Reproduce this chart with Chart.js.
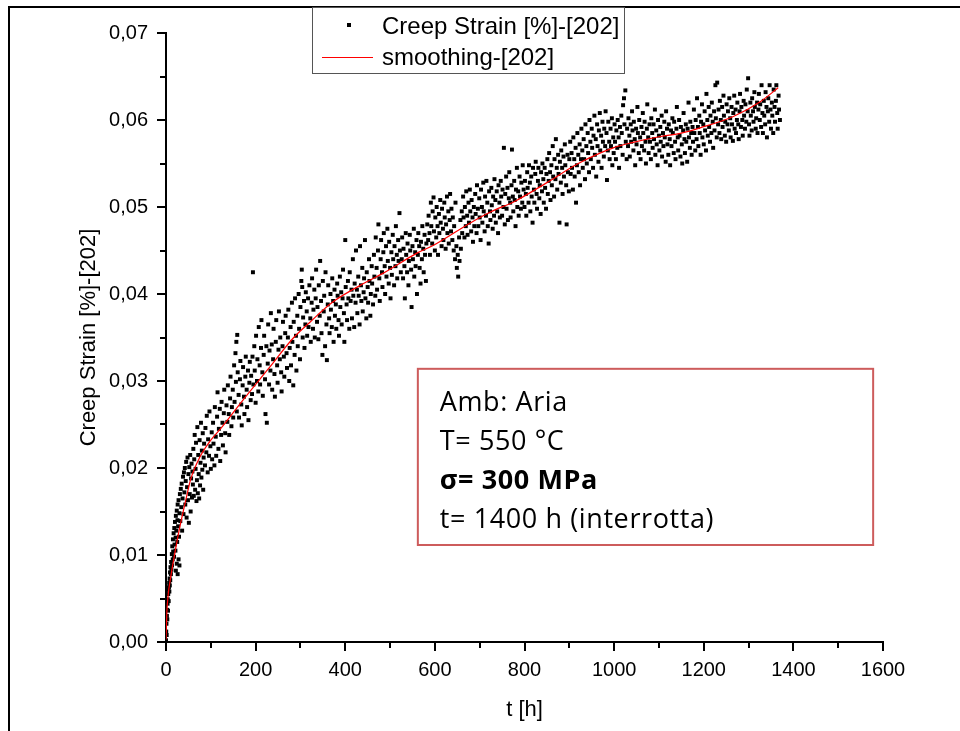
<!DOCTYPE html>
<html>
<head>
<meta charset="utf-8">
<script src="https://cdn.jsdelivr.net/npm/chart.js@4.4.0/dist/chart.umd.min.js"></script>
<style>
  body { margin: 0; background: #fff; }
  canvas { display: block; }
</style>
</head>
<body>
<canvas id="creepChart" width="960" height="731"></canvas>
<script>
// axis ticks
const timeTicks = [0, 200, 400, 600, 800, 1000, 1200, 1400, 1600];
const timeMinor = [100, 300, 500, 700, 900, 1100, 1300, 1500];
const strainTicks = [0, 0.01, 0.02, 0.03, 0.04, 0.05, 0.06, 0.07];
const strainMinor = [0.005, 0.015, 0.025, 0.035, 0.045, 0.055, 0.065];

// smoothing curve
const smoothTime = [0, 2, 5, 10, 20, 30, 45, 55, 75, 100, 120, 170, 230, 285, 320, 370, 448, 485, 560, 597, 680, 723, 780, 850, 920, 998, 1040, 1103, 1150, 1192, 1266, 1326, 1366];
const smoothStrain = [0.0003, 0.0035, 0.0055, 0.0073, 0.0103, 0.0130, 0.0165, 0.0187, 0.0212, 0.0232, 0.0244, 0.0277, 0.0315, 0.0350, 0.0367, 0.0390, 0.0414, 0.0424, 0.0447, 0.0456, 0.0482, 0.0494, 0.0507, 0.0528, 0.0550, 0.0568, 0.0574, 0.0581, 0.0585, 0.0591, 0.0604, 0.0621, 0.0637];

// measured creep strain [t (h), strain %]
const creepPoints = [
[0,0.0002],[0.5,0.0012],[1,0.0021],[1.5,0.0008],[2,0.0030],[2.5,0.0037],[3,0.0026],[3.5,0.0044],[4,0.0049],[4.5,0.0036],[5,0.0055],[5.5,0.0060],[6,0.0047],[6.5,0.0063],[7,0.0068],[7.5,0.0058],[8,0.0073],[8.5,0.0065],[9,0.0080],[9.5,0.0071],[10,0.0086],
[11,0.0078],[11.5,0.0092],[12,0.0083],[13,0.0101],[13.5,0.0088],[14,0.0110],[15,0.0095],[15.5,0.0118],[16,0.0104],[17,0.0125],[18,0.0098],[18.5,0.0131],[19,0.0112],[20,0.0138],[21,0.0105],[21.5,0.0120],[22,0.0145],[22,0.0082],[23,0.0128],[24,0.0151],[24,0.0090],[25,0.0115],[25.5,0.0140],[26,0.0158],[26,0.0078],[27,0.0133],[28,0.0163],[28,0.0095],[29,0.0121],[30,0.0148],[30,0.0088],[31,0.0170],[32,0.0139],[33,0.0176],[34,0.0155],[35,0.0182],[36,0.0128],[37,0.0165],[38,0.0190],[39,0.0147],[40,0.0195],
[41,0.0172],[42,0.0200],[43,0.0158],[44,0.0185],[45,0.0207],[46,0.0143],[47,0.0178],[48,0.0212],[49,0.0163],[50,0.0193],[51,0.0137],[52,0.0201],[53,0.0170],[54,0.0215],[55,0.0150],[56,0.0188],[57,0.0205],[58,0.0166],[59,0.0196],[60,0.0181],
[61,0.0222],[62,0.0168],[63,0.0210],[64,0.0238],[65,0.0175],[66,0.0199],[67,0.0229],[68,0.0162],[69,0.0186],[70,0.0247],[71,0.0171],[72,0.0215],[73,0.0193],[74,0.0165],[75,0.0232],[76,0.0180],[77,0.0206],[78,0.0252],[79,0.0189],[80,0.0220],[81,0.0198],[82,0.0240],[83,0.0175],[84,0.0212],[85,0.0228],
[87,0.0203],[88,0.0246],[90,0.0218],[91,0.0260],[93,0.0195],[94,0.0233],[96,0.0214],[97,0.0265],[99,0.0225],[100,0.0199],[102,0.0241],[103,0.0210],[105,0.0252],[106,0.0228],[108,0.0203],[109,0.0270],[111,0.0236],[112,0.0214],[114,0.0259],[115,0.0287],[117,0.0222],[118,0.0245],[120,0.0268],[121,0.0208],[123,0.0238],[124,0.0276],[126,0.0252],[127,0.0226],[129,0.0263],[130,0.0290],[132,0.0240],[133,0.0218],[135,0.0272],
[137,0.0253],[138,0.0295],[140,0.0262],[141,0.0238],[143,0.0280],[144,0.0305],[146,0.0248],[147,0.0270],[149,0.0290],[150,0.0258],[152,0.0318],[153,0.0276],[155,0.0332],[156,0.0299],[157,0.0345],[158,0.0265],[159,0.0353],[160,0.0310],[162,0.0284],[163,0.0258],[165,0.0302],[166,0.0323],[168,0.0273],[169,0.0249],[171,0.0295],[172,0.0316],[174,0.0282],[175,0.0262],[177,0.0305],[178,0.0328],[180,0.0290],[181,0.0270],[183,0.0312],[184,0.0255],[186,0.0298],[187,0.0322],[189,0.0278],[190,0.0306],[192,0.0285],[193,0.0328],[194,0.0425],[195,0.0296],
[197,0.0340],[198,0.0312],[200,0.0275],[201,0.0352],[203,0.0300],[204,0.0325],[206,0.0288],[207,0.0362],[209,0.0318],[210,0.0296],[212,0.0338],[213,0.0370],[215,0.0310],[216,0.0283],[218,0.0330],[219,0.0352],[221,0.0302],[222,0.0262],[224,0.0340],[225,0.0252],[227,0.0320],[228,0.0365],[230,0.0296],[231,0.0335],[233,0.0312],[234,0.0378],[236,0.0342],[237,0.0290],[239,0.0325],[240,0.0360],[242,0.0308],[243,0.0282],[245,0.0345],[246,0.0370],[248,0.0318],[249,0.0298],[251,0.0336],[252,0.0380],[254,0.0325],[255,0.0350],[257,0.0310],[258,0.0288],[260,0.0340],[261,0.0368],[263,0.0328],[264,0.0305],[266,0.0355],[267,0.0375],[269,0.0332],[270,0.0315],
[272,0.0350],[273,0.0382],[275,0.0300],[276,0.0338],[278,0.0362],[279,0.0318],[281,0.0390],[282,0.0345],[284,0.0295],[285,0.0368],[287,0.0330],[288,0.0395],[290,0.0352],[291,0.0312],[293,0.0375],[294,0.0340],[296,0.0400],[297,0.0360],[299,0.0325],[300,0.0385],[302,0.0415],[303,0.0428],[304,0.0408],[305,0.0350],[306,0.0373],[308,0.0392],[309,0.0338],[311,0.0365],[312,0.0402],[314,0.0380],[315,0.0352],[317,0.0395],[318,0.0362],[320,0.0410],
[322,0.0372],[323,0.0345],[325,0.0390],[326,0.0418],[328,0.0360],[329,0.0382],[331,0.0405],[332,0.0350],[334,0.0395],[335,0.0428],[337,0.0368],[338,0.0385],[340,0.0348],[341,0.0410],[343,0.0375],[344,0.0438],[346,0.0392],[347,0.0355],[349,0.0330],[350,0.0415],[352,0.0380],[353,0.0398],[355,0.0340],[356,0.0425],[358,0.0365],[359,0.0324],[361,0.0388],[362,0.0410],[364,0.0372],[365,0.0355],[367,0.0400],[368,0.0382],[370,0.0362],[371,0.0418],[373,0.0392],[374,0.0345],[376,0.0405],[377,0.0375],[379,0.0388],[380,0.0360],[382,0.0412],[383,0.0398],[385,0.0370],[386,0.0352],[388,0.0420],[389,0.0385],[391,0.0402],[392,0.0365],[394,0.0395],[395,0.0428],[397,0.0378],[398,0.0345],[400,0.0462],[401,0.0408],[403,0.0388],[404,0.0370],[406,0.0415],[407,0.0395],[409,0.0360],[410,0.0425],
[412,0.0392],[414,0.0405],[415,0.0372],[417,0.0440],[418,0.0398],[420,0.0362],[421,0.0412],[423,0.0390],[424,0.0450],[426,0.0405],[427,0.0378],[429,0.0420],[430,0.0398],[432,0.0365],[433,0.0455],[435,0.0410],[436,0.0392],[438,0.0430],[439,0.0380],[441,0.0402],[442,0.0418],[444,0.0462],[445,0.0395],[447,0.0372],[448,0.0425],[450,0.0408],[451,0.0390],[453,0.0440],[454,0.0415],[456,0.0375],[457,0.0400],[459,0.0432],[460,0.0412],[462,0.0388],[464,0.0445],[465,0.0420],[467,0.0398],[468,0.0465],[470,0.0430],[471,0.0405],[473,0.0450],[474,0.0480],[476,0.0418],[477,0.0392],[479,0.0440],[480,0.0462],[482,0.0425],[483,0.0408],[485,0.0448],[486,0.0470],[488,0.0432],[489,0.0400],[491,0.0455],[492,0.0420],[494,0.0475],[495,0.0438],[497,0.0412],[498,0.0460],[500,0.0430],[501,0.0395],[503,0.0448],[504,0.0422],[506,0.0468],[507,0.0440],[509,0.0410],[510,0.0455],[512,0.0432],[513,0.0478],[515,0.0445],[516,0.0418],[518,0.0462],[519,0.0438],[521,0.0493],[522,0.0450],[524,0.0425],
[526,0.0440],[527,0.0465],[529,0.0418],[530,0.0452],[532,0.0432],[533,0.0395],[535,0.0470],[536,0.0445],[538,0.0425],[539,0.0458],[541,0.0410],[542,0.0438],[544,0.0468],[545,0.0450],[547,0.0428],[548,0.0385],[550,0.0455],[551,0.0440],[553,0.0475],[554,0.0420],[556,0.0448],[557,0.0432],[559,0.0462],[560,0.0400],[562,0.0445],[563,0.0470],[565,0.0455],[566,0.0430],[568,0.0412],[569,0.0460],[571,0.0440],[572,0.0478],[574,0.0452],[575,0.0425],[577,0.0468],[578,0.0445],[580,0.0415],[581,0.0458],[583,0.0480],
[585,0.0462],[586,0.0490],[588,0.0470],[589,0.0445],[591,0.0505],[592,0.0478],[594,0.0458],[595,0.0495],[597,0.0511],[598,0.0472],[600,0.0450],[601,0.0488],[603,0.0465],[604,0.0500],[606,0.0478],[607,0.0445],[609,0.0492],[610,0.0470],[612,0.0508],[613,0.0482],[615,0.0455],[616,0.0498],[618,0.0475],[619,0.0462],[621,0.0505],[622,0.0488],[624,0.0452],[625,0.0480],[627,0.0512],[628,0.0470],[630,0.0495],[631,0.0458],[633,0.0485],[634,0.0515],[636,0.0472],[637,0.0498],[639,0.0462],[640,0.0488],[642,0.0450],[643,0.0478],[645,0.0440],[646,0.0505],[648,0.0455],[649,0.0430],[651,0.0445],[652,0.0420],[654,0.0465],[655,0.0438],[657,0.0485],[658,0.0452],[660,0.0495],[661,0.0470],[663,0.0512],[664,0.0488],[666,0.0465],[667,0.0500],[669,0.0478],[670,0.0518],[672,0.0490],[673,0.0468],[675,0.0505],[676,0.0482],[678,0.0520],[679,0.0495],[681,0.0472],[682,0.0508],[684,0.0488],[685,0.0460],[687,0.0500],[688,0.0478],
[690,0.0515],[691,0.0492],[693,0.0470],[694,0.0525],[696,0.0498],[697,0.0478],[699,0.0510],[700,0.0488],[702,0.0462],[703,0.0520],[705,0.0500],[706,0.0482],[708,0.0528],[709,0.0495],[711,0.0472],[712,0.0512],[714,0.0490],[715,0.0530],[717,0.0505],[718,0.0478],[720,0.0458],[721,0.0518],[723,0.0495],[724,0.0485],[726,0.0522],[727,0.0502],[729,0.0475],[730,0.0512],[732,0.0490],[733,0.0532],[735,0.0508],[736,0.0482],[738,0.0518],[739,0.0495],[741,0.0470],[742,0.0525],[744,0.0505],[745,0.0488],[747,0.0530],[748,0.0512],[750,0.0490],[751,0.0520],[753,0.0500],[754,0.0568],[756,0.0480],[757,0.0515],[759,0.0535],[760,0.0498],[762,0.0522],[763,0.0485],[765,0.0510],[766,0.0540],[768,0.0505],[769,0.0488],[771,0.0525],[772,0.0566],[774,0.0512],[775,0.0495],[777,0.0530],[778,0.0508],[780,0.0478],[781,0.0520],[783,0.0545],[784,0.0500],[786,0.0518],[787,0.0490],[789,0.0535],[790,0.0512],[792,0.0498],[793,0.0528],[795,0.0505],[796,0.0548],[798,0.0520],
[800,0.0500],[801,0.0530],[803,0.0515],[804,0.0490],[806,0.0540],[807,0.0522],[809,0.0505],[810,0.0548],[812,0.0528],[813,0.0495],[815,0.0535],[816,0.0512],[818,0.0482],[819,0.0545],[821,0.0520],[822,0.0505],[824,0.0538],[825,0.0552],[827,0.0515],[828,0.0498],[830,0.0530],[831,0.0545],[833,0.0510],[834,0.0525],[836,0.0492],[837,0.0540],[839,0.0518],[840,0.0550],[842,0.0532],[843,0.0505],[845,0.0545],[846,0.0522],[848,0.0498],[849,0.0538],[851,0.0555],[852,0.0515],[854,0.0530],[855,0.0562],[857,0.0540],[858,0.0508],[860,0.0548],[861,0.0525],[863,0.0570],[864,0.0535],[866,0.0512],[867,0.0555],[869,0.0532],[870,0.0578],[872,0.0545],[873,0.0520],[875,0.0560],[876,0.0538],[878,0.0482],[879,0.0552],[881,0.0528],[882,0.0565],[884,0.0545],[885,0.0515],[887,0.0558],[888,0.0535],[890,0.0572],[891,0.0548],[893,0.0525],[894,0.0480],[896,0.0560],[897,0.0540],[899,0.0518],[900,0.0555],[902,0.0575],[903,0.0538],
[905,0.0562],[906,0.0545],[908,0.0520],[909,0.0580],[911,0.0555],[912,0.0535],[914,0.0568],[915,0.0505],[917,0.0548],[918,0.0585],[920,0.0560],[921,0.0540],[923,0.0572],[924,0.0525],[926,0.0555],[927,0.0590],[929,0.0565],[930,0.0545],[932,0.0578],[933,0.0555],[935,0.0532],[936,0.0595],[938,0.0570],[939,0.0550],[941,0.0585],[942,0.0562],[944,0.0540],[945,0.0600],[947,0.0575],[948,0.0555],[950,0.0590],[951,0.0568],[953,0.0545],[954,0.0582],[956,0.0605],[957,0.0560],[959,0.0578],[960,0.0535],[962,0.0595],[963,0.0570],[965,0.0552],[966,0.0588],[968,0.0608],[969,0.0565],[971,0.0582],[972,0.0545],[974,0.0598],[975,0.0575],[977,0.0558],[978,0.0590],[980,0.0570],[981,0.0610],[983,0.0585],[984,0.0531],[986,0.0565],[987,0.0598],[989,0.0575],[990,0.0555],[992,0.0590],[993,0.0570],[995,0.0602],[996,0.0548],[998,0.0580],[999,0.0562],[1001,0.0595],[1002,0.0575],[1004,0.0555],[1005,0.0588],[1007,0.0568],[1008,0.0600],[1010,0.0580],[1011,0.0545],[1013,0.0592],[1014,0.0570],[1016,0.0605],[1017,0.0585],[1019,0.0560],[1020,0.0617],[1022,0.0625],[1023,0.0595],[1025,0.0634],[1026,0.0575],[1028,0.0555],[1029,0.0590],
[1031,0.0570],[1032,0.0602],[1034,0.0582],[1035,0.0558],[1037,0.0595],[1038,0.0575],[1040,0.0610],[1041,0.0588],[1043,0.0565],[1044,0.0598],[1046,0.0578],[1047,0.0548],[1049,0.0590],[1050,0.0572],[1052,0.0615],[1053,0.0585],[1055,0.0562],[1056,0.0600],[1058,0.0580],[1059,0.0555],[1061,0.0592],[1062,0.0570],[1064,0.0608],[1065,0.0585],[1067,0.0565],[1068,0.0598],[1070,0.0575],[1071,0.0550],[1073,0.0590],[1074,0.0618],[1076,0.0580],[1077,0.0562],[1079,0.0595],[1080,0.0575],[1082,0.0555],[1083,0.0602],[1085,0.0585],[1086,0.0568],[1088,0.0595],[1089,0.0578],[1091,0.0612],[1092,0.0560],[1094,0.0588],[1095,0.0572],[1097,0.0548],[1098,0.0600],[1100,0.0582],[1101,0.0565],[1103,0.0592],[1104,0.0575],[1106,0.0605],[1107,0.0558],[1109,0.0585],[1110,0.0570],[1112,0.0598],[1113,0.0580],[1115,0.0552],[1116,0.0610],[1118,0.0590],[1119,0.0572],[1121,0.0560],[1122,0.0595],[1124,0.0578],[1125,0.0548],[1127,0.0588],[1128,0.0570],[1130,0.0602],[1131,0.0585],[1133,0.0562],[1134,0.0598],[1136,0.0575],[1137,0.0555],[1139,0.0590],[1140,0.0615],[1142,0.0580],[1143,0.0565],[1145,0.0600],[1146,0.0582],[1148,0.0558],[1149,0.0592],[1151,0.0572],[1152,0.0550],[1154,0.0588],[1155,0.0608],[1157,0.0578],[1158,0.0562],[1160,0.0595],[1161,0.0575],[1163,0.0552],[1164,0.0590],[1166,0.0620],[1167,0.0580],[1169,0.0568],[1170,0.0598],[1172,0.0585],[1173,0.0560],[1175,0.0592],[1176,0.0575],[1178,0.0612],
[1179,0.0585],[1181,0.0565],[1182,0.0600],[1184,0.0578],[1185,0.0625],[1187,0.0592],[1188,0.0570],[1190,0.0605],[1191,0.0585],[1193,0.0560],[1194,0.0598],[1196,0.0618],[1197,0.0580],[1199,0.0595],[1200,0.0572],[1202,0.0610],[1203,0.0588],[1205,0.0565],[1206,0.0630],[1208,0.0600],[1209,0.0582],[1211,0.0615],[1212,0.0592],[1214,0.0575],[1215,0.0605],[1217,0.0585],[1218,0.0620],[1220,0.0598],[1221,0.0568],[1223,0.0610],[1224,0.0588],[1226,0.0640],[1227,0.0602],[1229,0.0580],[1230,0.0643],[1232,0.0595],[1233,0.0612],[1235,0.0585],[1236,0.0622],[1238,0.0600],[1239,0.0578],[1241,0.0615],[1242,0.0592],[1244,0.0628],[1245,0.0605],[1247,0.0582],[1248,0.0598],[1250,0.0575],[1251,0.0618],[1253,0.0595],[1254,0.0610],[1256,0.0588],[1257,0.0625],[1259,0.0602],[1260,0.0580],[1262,0.0615],[1263,0.0595],[1265,0.0576],[1266,0.0608],[1268,0.0628],[1269,0.0590],[1271,0.0612],[1272,0.0585],[1274,0.0600],[1275,0.0620],[1277,0.0595],[1278,0.0578],[1280,0.0610],[1281,0.0630],[1283,0.0592],[1284,0.0615],[1286,0.0600],[1287,0.0582],[1289,0.0622],[1290,0.0605],[1292,0.0590],[1293,0.0618],[1295,0.0598],[1296,0.0635],[1298,0.0610],[1299,0.0648],[1301,0.0595],[1302,0.0582],[1304,0.0620],[1305,0.0605],[1307,0.0588],[1308,0.0625],[1310,0.0610],[1311,0.0598],[1313,0.0632],[1314,0.0615],[1316,0.0590],[1317,0.0602],[1319,0.0620],[1320,0.0585],[1322,0.0612],[1323,0.0630],[1325,0.0600],[1326,0.0618],[1328,0.0592],[1329,0.0640],[1331,0.0608],[1332,0.0585],[1334,0.0622],[1335,0.0605],[1337,0.0595],[1338,0.0632],[1340,0.0615],[1341,0.0580],[1343,0.0610],[1344,0.0625],[1346,0.0598],[1347,0.0640],[1349,0.0612],[1350,0.0590],[1352,0.0620],[1353,0.0605],[1355,0.0585],[1356,0.0635],[1358,0.0615],[1359,0.0598],[1361,0.0622],[1362,0.0640],[1364,0.0608],[1365,0.0590],[1367,0.0628],[1368,0.0612],[1370,0.0600]
];

const noteLines = ['Amb: Aria', 'T= 550 °C', 'σ= 300 MPa', 't= 1400 h (interrotta)'];

const fmtStrain = v => v.toFixed(2).replace('.', ',');

// white page + the frame line on top and left
const framePlugin = {
  id: 'frame',
  beforeDraw(chart) {
    const ctx = chart.ctx;
    ctx.save();
    ctx.fillStyle = '#fff';
    ctx.fillRect(0, 0, chart.width, chart.height);
    ctx.strokeStyle = '#000';
    ctx.lineWidth = 2;
    ctx.beginPath();
    ctx.moveTo(9, chart.height);
    ctx.lineTo(9, 7);
    ctx.lineTo(chart.width, 7);
    ctx.stroke();
    ctx.restore();
  }
};

const minorTickPlugin = {
  id: 'minorTicks',
  afterDraw(chart) {
    const { ctx, scales: { x, y } } = chart;
    ctx.save();
    ctx.strokeStyle = '#000';
    ctx.lineWidth = 2;
    ctx.beginPath();
    timeMinor.forEach(v => {
      const px = Math.round(x.getPixelForValue(v));
      ctx.moveTo(px, y.bottom);
      ctx.lineTo(px, y.bottom + 6);
    });
    strainMinor.forEach(v => {
      const py = Math.round(y.getPixelForValue(v));
      ctx.moveTo(x.left, py);
      ctx.lineTo(x.left - 6, py);
    });
    ctx.stroke();
    ctx.restore();
  }
};

// legend box at the top, drawn like the original
const legendPlugin = {
  id: 'boxLegend',
  afterDraw(chart) {
    const ctx = chart.ctx;
    const ds = chart.data.datasets;
    ctx.save();
    ctx.fillStyle = '#fff';
    ctx.fillRect(312, 7, 312, 66);
    ctx.strokeStyle = '#555';
    ctx.lineWidth = 1;
    ctx.strokeRect(312.5, 7.5, 312, 66);
    ctx.fillStyle = '#000';
    ctx.fillRect(347, 23, 4, 4);
    ctx.strokeStyle = '#ff0000';
    ctx.beginPath();
    ctx.moveTo(322, 57.5);
    ctx.lineTo(373, 57.5);
    ctx.stroke();
    ctx.fillStyle = '#000';
    ctx.font = '24px "Liberation Sans", Arial, sans-serif';
    ctx.textBaseline = 'middle';
    ctx.fillText(ds[1].label, 382, 27);
    ctx.fillText(ds[0].label, 382, 58);
    ctx.restore();
  }
};

// text box with test conditions
const notePlugin = {
  id: 'note',
  afterDraw(chart) {
    const { ctx, scales: { x, y } } = chart;
    const left = x.getPixelForValue(562), right = x.getPixelForValue(1578);
    const top = y.getPixelForValue(0.0314), bottom = y.getPixelForValue(0.01115);
    ctx.save();
    ctx.fillStyle = '#fff';
    ctx.fillRect(left, top, right - left, bottom - top);
    ctx.strokeStyle = '#cd5c5c';
    ctx.lineWidth = 2;
    ctx.strokeRect(left, top, right - left, bottom - top);
    ctx.fillStyle = '#000';
    ctx.textBaseline = 'alphabetic';
    if ('letterSpacing' in ctx) ctx.letterSpacing = '0.6px';
    noteLines.forEach((line, i) => {
      ctx.font = (i === 2 ? 'bold ' : '') + '27px "Open Sans", sans-serif';
      ctx.fillText(line, left + 22, top + 42 + i * 39);
    });
    ctx.restore();
  }
};

new Chart(document.getElementById('creepChart'), {
  type: 'scatter',
  data: {
    datasets: [{
      label: 'smoothing-[202]',
      data: smoothTime.map((t, i) => ({ x: t, y: smoothStrain[i] })),
      showLine: true,
      borderColor: '#ff0000',
      borderWidth: 1.2,
      pointRadius: 0,
      cubicInterpolationMode: 'monotone',
      order: 0
    }, {
      label: 'Creep Strain [%]-[202]',
      data: creepPoints.map(([t, s]) => ({ x: t, y: s })),
      pointStyle: 'rect',
      pointRadius: 2.8,
      pointBorderWidth: 0,
      backgroundColor: '#000',
      borderColor: '#000',
      order: 1
    }]
  },
  options: {
    responsive: false,
    animation: false,
    devicePixelRatio: 1,
    layout: { padding: { left: 72, right: 77, top: 33, bottom: 4 } },
    plugins: {
      legend: { display: false },
      tooltip: { enabled: false }
    },
    scales: {
      x: {
        type: 'linear',
        min: 0,
        max: 1600,
        afterBuildTicks: s => { s.ticks = timeTicks.map(v => ({ value: v })); },
        afterFit: s => { s.height = 85; },
        grid: { drawOnChartArea: false, tickLength: 9, color: '#000', lineWidth: 2 },
        border: { display: true, color: '#000', width: 2 },
        ticks: { color: '#000', padding: 7, maxRotation: 0, callback: v => String(v), font: { family: '"Liberation Sans", Arial, sans-serif', size: 20 } },
        title: { display: true, text: 't [h]', color: '#000', font: { family: '"Liberation Sans", Arial, sans-serif', size: 22 } }
      },
      y: {
        type: 'linear',
        min: 0,
        max: 0.07,
        afterBuildTicks: s => { s.ticks = strainTicks.map(v => ({ value: v })); },
        afterFit: s => { s.width = 94; },
        grid: { drawOnChartArea: false, tickLength: 9, color: '#000', lineWidth: 2 },
        border: { display: true, color: '#000', width: 2 },
        ticks: { color: '#000', padding: 9, callback: v => fmtStrain(v), font: { family: '"Liberation Sans", Arial, sans-serif', size: 20 } },
        title: { display: true, text: 'Creep Strain [%]-[202]', color: '#000', font: { family: '"Liberation Sans", Arial, sans-serif', size: 22 } }
      }
    }
  },
  plugins: [framePlugin, minorTickPlugin, legendPlugin, notePlugin]
});
</script>
</body>
</html>
